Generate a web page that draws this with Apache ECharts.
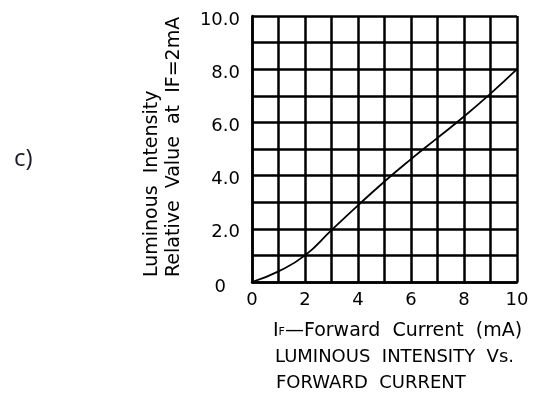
<!DOCTYPE html>
<html>
<head>
<meta charset="utf-8">
<script src="https://cdn.jsdelivr.net/npm/echarts@6/dist/echarts.min.js"></script>
<style>
html,body{margin:0;padding:0;background:#fff;}
#c{width:539px;height:394px;}
</style>
</head>
<body>
<div id="c"></div>
<script>
const currentMA = [0, 1, 2, 3, 4, 5, 6, 7, 8, 9, 10];
const relIntensity = [0, 0.4, 1.0, 1.95, 2.88, 3.78, 4.62, 5.42, 6.22, 7.08, 8.0];
const xTickLabels = ['0', '2', '4', '6', '8', '10'];
const yTickLabels = ['0', '2.0', '4.0', '6.0', '8.0', '10.0'];

const chart = echarts.init(document.getElementById('c'), null, {renderer: 'canvas'});
const FONT = 'DejaVu Sans';
const gridLine = {show: true, lineStyle: {color: '#000', width: 2.5}};

chart.setOption({
  animation: false,
  backgroundColor: '#fff',
  grid: {left: 252, right: 22, top: 16, bottom: 112},
  xAxis: {
    type: 'value', min: 0, max: 10, interval: 1,
    axisLine: {show: true, lineStyle: {color: '#000', width: 2.5}},
    axisTick: {show: false},
    splitLine: gridLine,
    axisLabel: {
      color: '#000', fontFamily: FONT, fontSize: 18, margin: 9,
      formatter: v => (v % 2 === 0 ? xTickLabels[v / 2] : '')
    }
  },
  yAxis: {
    type: 'value', min: 0, max: 10, interval: 1,
    axisLine: {show: true, lineStyle: {color: '#000', width: 2.5}},
    axisTick: {show: false},
    splitLine: gridLine,
    axisLabel: {
      color: '#000', fontFamily: FONT, fontSize: 18, margin: 12, padding: [8, 0, 0, 0],
      formatter: v => (v % 2 === 0 ? (v === 0 ? '{z|0}' : yTickLabels[v / 2]) : ''),
      rich: {z: {fontFamily: FONT, fontSize: 18, color: '#000', padding: [2, 14, 0, 0]}}
    }
  },
  series: [{
    type: 'line',
    data: currentMA.map((x, i) => [x, relIntensity[i]]),
    smooth: 0.5,
    symbol: 'none',
    lineStyle: {color: '#000', width: 1.8}
  }],
  graphic: [
    {type: 'text', x: 14, y: 159, style: {text: 'c)', font: '24px "Open Sans"', fill: '#1a1a2a', textVerticalAlign: 'middle'}},
    {type: 'text', x: 152, y: 277, rotation: Math.PI / 2,
      style: {text: 'Luminous  Intensity', font: '19px "' + FONT + '"', fill: '#000', textAlign: 'left', textVerticalAlign: 'middle'}},
    {type: 'text', x: 174, y: 277, rotation: Math.PI / 2,
      style: {text: 'Relative  Value  at  IF=2mA', font: '19px "' + FONT + '"', fill: '#000', textAlign: 'left', textVerticalAlign: 'middle'}},
    {type: 'text', x: 273, y: 331,
      style: {text: '{a|I}{s|F}{a|—Forward  Current  (mA)}', textVerticalAlign: 'middle',
        rich: {a: {fontFamily: FONT, fontSize: 19, fill: '#000'}, s: {fontFamily: FONT, fontSize: 11, fill: '#000', padding: [3, 0, 0, 0]}}}},
    {type: 'text', x: 275, y: 357,
      style: {text: 'LUMINOUS  INTENSITY  Vs.', font: '18px "' + FONT + '"', fill: '#000', textVerticalAlign: 'middle'}},
    {type: 'text', x: 276, y: 383,
      style: {text: 'FORWARD  CURRENT', font: '18px "' + FONT + '"', fill: '#000', textVerticalAlign: 'middle'}}
  ]
});
</script>
</body>
</html>
